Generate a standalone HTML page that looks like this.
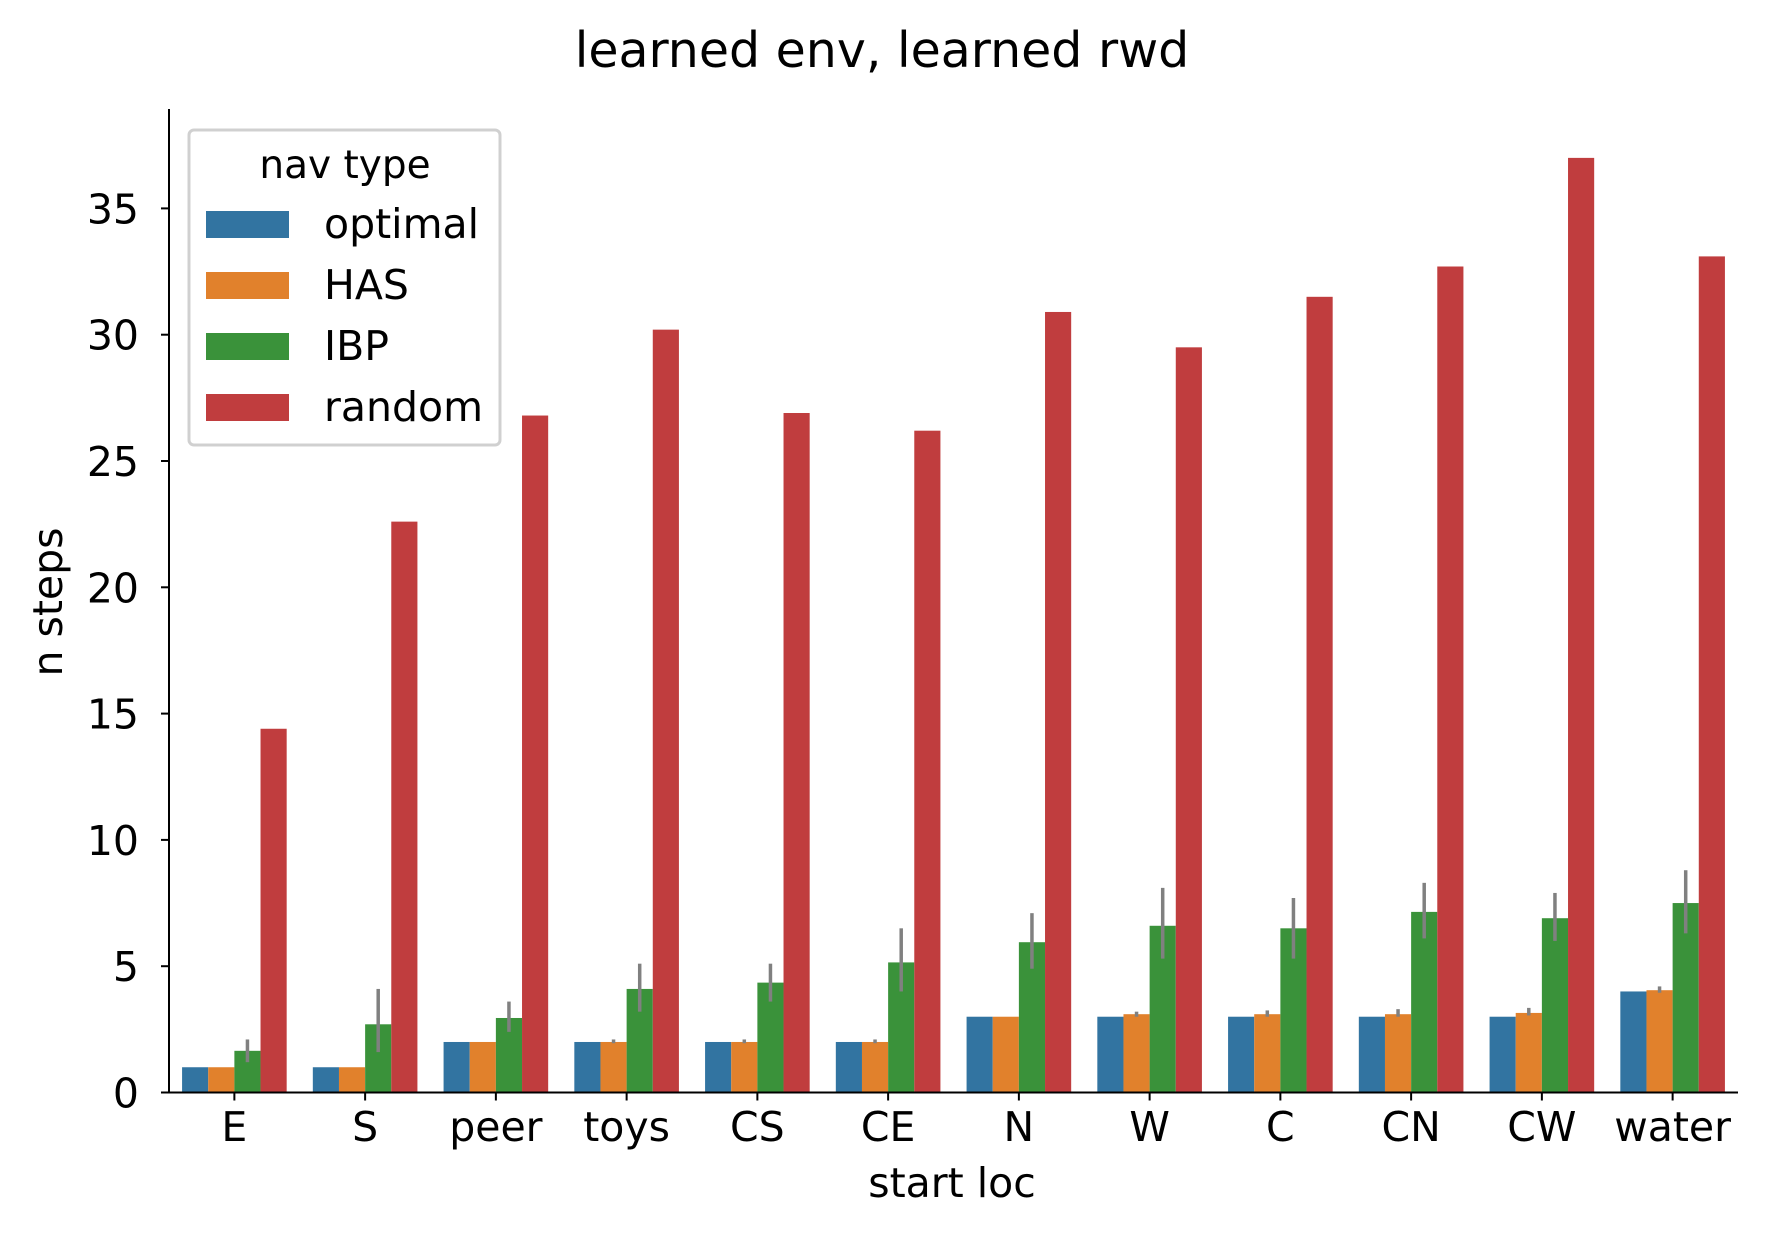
<!DOCTYPE html>
<html><head><meta charset="utf-8"><style>
body{margin:0;background:#fff}
svg text{font-family:"DejaVu Sans","Liberation Sans",sans-serif;fill:#000}
</style></head><body>
<svg id="chart" width="1766" height="1234" viewBox="0 0 1766 1234">
<text x="882" y="67" font-size="49" text-anchor="middle">learned env, learned rwd</text>
<g id="plot"></g>
</svg>
<script>
const categories=["E","S","peer","toys","CS","CE","N","W","C","CN","CW","water"];
const seriesNames=["optimal","HAS","IBP","random"];
const optimal=[1,1,2,2,2,2,3,3,3,3,3,4];
const has=[1,1,2,2,2,2,3,3.1,3.1,3.1,3.15,4.05];
const ibp=[1.65,2.7,2.95,4.1,4.35,5.15,5.95,6.6,6.5,7.15,6.9,7.5];
const random=[14.4,22.6,26.8,30.2,26.9,26.2,30.9,29.5,31.5,32.7,37.0,33.1];
const hasErrLo=[1,1,2,1.95,1.95,1.95,3,3.0,3.0,3.0,3.05,3.95];
const hasErrHi=[1,1,2,2.1,2.1,2.1,3,3.2,3.25,3.3,3.35,4.2];
const ibpErrLo=[1.2,1.6,2.4,3.2,3.6,4.0,4.9,5.3,5.3,6.1,6.0,6.3];
const ibpErrHi=[2.1,4.1,3.6,5.1,5.1,6.5,7.1,8.1,7.7,8.3,7.9,8.8];
const yTicks=[0,5,10,15,20,25,30,35];
const colors=["#3274a1","#e1812c","#3a923a","#c03d3e"];
const NS="http://www.w3.org/2000/svg";
const g=document.getElementById('plot');
const L=169,R=1738,Y0=1092.5,YTOP=109,unit=(1092.5-208.4)/35;
const y=v=>Y0-v*unit;
const gw=(R-L)/categories.length, bw=gw*0.8/4;
const x=(i,s)=>L+gw*i+gw*0.1+bw*s;
function mk(tag,attrs){const e=document.createElementNS(NS,tag);for(const k in attrs)e.setAttribute(k,attrs[k]);g.appendChild(e);return e;}
const all=[optimal,has,ibp,random];
all.forEach((arr,s)=>arr.forEach((v,i)=>{
  const r=mk('rect',{x:x(i,s),y:y(v),width:bw,height:Y0-y(v),fill:colors[s]});
  
  
}));
[[1,hasErrLo,hasErrHi],[2,ibpErrLo,ibpErrHi]].forEach(([s,lo,hi])=>lo.forEach((l,i)=>{
  if(hi[i]-l<0.01)return;
  const cx=x(i,s)+bw/2;
  const e=mk('line',{x1:cx,x2:cx,y1:y(l),y2:y(hi[i]),stroke:'#808080','stroke-width':3.5});
  
  
}));
let a=mk('line',{x1:L,x2:L,y1:YTOP,y2:Y0+1,stroke:'#000','stroke-width':2});


a=mk('line',{x1:L-1,x2:R,y1:Y0,y2:Y0,stroke:'#000','stroke-width':2});


yTicks.forEach(t=>{
  mk('line',{x1:L-8,x2:L,y1:y(t),y2:y(t),stroke:'#000','stroke-width':2});
  const tx=mk('text',{x:L-30,y:y(t)+15,'font-size':41,'text-anchor':'end'});
  tx.textContent=t;
  
  
});
categories.forEach((c,i)=>{
  const cx=L+gw*(i+0.5);
  mk('line',{x1:cx,x2:cx,y1:Y0,y2:Y0+8,stroke:'#000','stroke-width':2});
  const tx=mk('text',{x:cx,y:1141,'font-size':41,'text-anchor':'middle'});
  tx.textContent=c;
  
  
});
let t=mk('text',{x:952,y:1197,'font-size':41,'text-anchor':'middle'});t.textContent='start loc';


t=mk('text',{x:0,y:0,'font-size':41,'text-anchor':'middle',transform:'translate(62,602) rotate(-90)'});t.textContent='n steps';


const lg=mk('rect',{x:189,y:130,width:311,height:315,rx:5,fill:'#fff','fill-opacity':0.8,stroke:'#d0d0d0','stroke-width':3});


t=mk('text',{x:345,y:178,'font-size':39,'text-anchor':'middle'});t.textContent='nav type';


seriesNames.forEach((n,s)=>{
  const cy=224+s*61;
  const p=mk('rect',{x:206,y:cy-13,width:83,height:27,fill:colors[s]});
  
  
  const tx=mk('text',{x:324,y:cy+14,'font-size':41});tx.textContent=n;
  
  
});
</script>
</body></html>
